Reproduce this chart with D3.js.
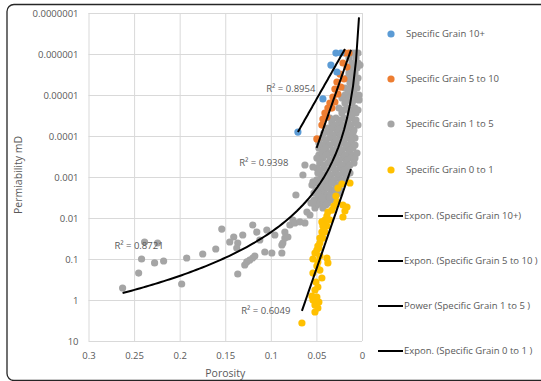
<!DOCTYPE html>
<html>
<head>
<meta charset="utf-8">
<script src="https://cdn.jsdelivr.net/npm/d3@7"></script>
<style>
  body { margin: 0; background: #fff; }
  text { font-family: "Open Sans", sans-serif; fill: #595959; }
</style>
</head>
<body>
<div id="chart"></div>
<script>
// series points: [porosity, permeability mD]
const grain10 = [
  [0.0286, 9.5e-7], [0.0231, 9.5e-7], [0.0341, 1.86e-6], [0.0275, 2.75e-6],
  [0.0429, 1.25e-5], [0.0703, 8.0e-5]
];
const grain5to10 = [
  [0.0187, 9.5e-7], [0.0143, 9.5e-7], [0.0209, 1.66e-6], [0.0165, 2.08e-6],
  [0.0242, 3.08e-6], [0.0198, 4.07e-6], [0.0275, 4.82e-6], [0.0231, 6.39e-6],
  [0.0297, 7.14e-6], [0.0264, 9.46e-6], [0.0319, 1.12e-5], [0.0297, 1.48e-5],
  [0.0352, 1.57e-5], [0.033, 2.08e-5], [0.0374, 2.08e-5], [0.0407, 2.75e-5],
  [0.0385, 3.44e-5], [0.0429, 3.85e-5], [0.044, 5.4e-5], [0.0495, 1.18e-4]
];
const grain1to5 = [
  [0.011, 9.5e-7], [0.0077, 9.5e-7], [0.0044, 9.5e-7],
  [0.0143, 1.25e-6], [0.0066, 1.25e-6],
  [0.011, 1.66e-6], [0.0044, 1.66e-6],
  [0.0077, 1.86e-6], [0.0022, 1.86e-6],
  [0.011, 2.2e-6], [0.0055, 2.2e-6],
  [0.0143, 2.9e-6], [0.0077, 2.9e-6],
  [0.0165, 3.85e-6], [0.0099, 3.85e-6], [0.0044, 3.85e-6],
  [0.0132, 5.1e-6], [0.0066, 5.1e-6],
  [0.0187, 6.75e-6], [0.0121, 6.75e-6], [0.0055, 6.75e-6],
  [0.0154, 8.94e-6], [0.0088, 8.94e-6],
  [0.0187, 1.0e-5], [0.0033, 1.0e-5],
  [0.022, 1.18e-5], [0.0132, 1.18e-5], [0.0066, 1.18e-5],
  [0.0154, 1.32e-5], [0.0088, 1.32e-5], [0.0033, 1.32e-5],
  [0.0187, 1.57e-5], [0.011, 1.57e-5],
  [0.0253, 2.08e-5], [0.0165, 2.08e-5], [0.0077, 2.08e-5],
  [0.0198, 2.32e-5], [0.011, 2.32e-5], [0.0044, 2.32e-5],
  [0.022, 2.75e-5], [0.0132, 2.75e-5], [0.0066, 2.75e-5],
  [0.0352, 3.64e-5], [0.0286, 3.64e-5], [0.0198, 3.64e-5], [0.011, 3.64e-5],
  [0.0242, 4.07e-5], [0.0154, 4.07e-5], [0.0066, 4.07e-5],
  [0.033, 4.82e-5], [0.0253, 4.82e-5], [0.0165, 4.82e-5], [0.0077, 4.82e-5],
  [0.0286, 5.4e-5], [0.0198, 5.4e-5], [0.0121, 5.4e-5], [0.0044, 5.4e-5],
  [0.0374, 6.39e-5], [0.0319, 6.39e-5], [0.022, 6.39e-5], [0.0132, 6.39e-5],
  [0.0264, 7.14e-5], [0.0176, 7.14e-5], [0.0088, 7.14e-5],
  [0.0418, 8.45e-5], [0.0352, 8.45e-5], [0.0275, 8.45e-5], [0.0187, 8.45e-5], [0.0099, 8.45e-5],
  [0.0319, 9.46e-5], [0.0231, 9.46e-5], [0.0143, 9.46e-5],
  [0.044, 1.12e-4], [0.0352, 1.12e-4], [0.0242, 1.12e-4], [0.0154, 1.12e-4], [0.0077, 1.12e-4],
  [0.0396, 1.25e-4], [0.0286, 1.25e-4], [0.0198, 1.25e-4], [0.011, 1.25e-4],
  [0.0473, 1.48e-4], [0.0396, 1.48e-4], [0.0308, 1.48e-4], [0.0209, 1.48e-4], [0.0121, 1.48e-4],
  [0.044, 1.66e-4], [0.0352, 1.66e-4], [0.0253, 1.66e-4], [0.0165, 1.66e-4], [0.0077, 1.66e-4],
  [0.0473, 1.96e-4], [0.0396, 1.96e-4], [0.0275, 1.96e-4], [0.0176, 1.96e-4], [0.0099, 1.96e-4],
  [0.0418, 2.2e-4], [0.0319, 2.2e-4], [0.022, 2.2e-4], [0.0132, 2.2e-4],
  [0.044, 2.6e-4], [0.0352, 2.6e-4], [0.0242, 2.6e-4], [0.0143, 2.6e-4], [0.0055, 2.6e-4],
  [0.0473, 2.91e-4], [0.0385, 2.91e-4], [0.0286, 2.91e-4], [0.0187, 2.91e-4], [0.0099, 2.91e-4],
  [0.0495, 3.44e-4], [0.0429, 3.44e-4], [0.0308, 3.44e-4], [0.0209, 3.44e-4], [0.0121, 3.44e-4], [0.0077, 3.44e-4],
  [0.0462, 3.85e-4], [0.0352, 3.85e-4], [0.0253, 3.85e-4], [0.0165, 3.85e-4],
  [0.0462, 4.56e-4], [0.0374, 4.56e-4], [0.0275, 4.56e-4], [0.0176, 4.56e-4], [0.0088, 4.56e-4],
  [0.0418, 5.1e-4], [0.0319, 5.1e-4], [0.022, 5.1e-4], [0.0132, 5.1e-4],
  [0.0495, 6.04e-4], [0.0418, 6.04e-4], [0.033, 6.04e-4], [0.0242, 6.04e-4], [0.0154, 6.04e-4],
  [0.0462, 6.75e-4], [0.0374, 6.75e-4], [0.0286, 6.75e-4], [0.0198, 6.75e-4],
  [0.0484, 7.99e-4], [0.0385, 7.99e-4], [0.0297, 7.99e-4], [0.0209, 7.99e-4], [0.0132, 7.99e-4],
  [0.0429, 8.94e-4], [0.0341, 8.94e-4], [0.0253, 8.94e-4], [0.0165, 8.94e-4],
  [0.0451, 1.06e-3], [0.0352, 1.06e-3], [0.0264, 1.06e-3], [0.0176, 1.06e-3],
  [0.0495, 1.18e-3], [0.0396, 1.18e-3], [0.0308, 1.18e-3], [0.022, 1.18e-3],
  [0.0505, 1.4e-3], [0.0407, 1.4e-3], [0.0319, 1.4e-3], [0.0231, 1.4e-3],
  [0.0451, 1.57e-3], [0.0363, 1.57e-3], [0.0275, 1.57e-3],
  [0.0462, 1.86e-3], [0.0374, 1.86e-3], [0.0286, 1.86e-3],
  [0.0505, 2.08e-3], [0.0418, 2.08e-3], [0.033, 2.08e-3], [0.0242, 2.08e-3],
  [0.0527, 2.46e-3], [0.0429, 2.46e-3], [0.0341, 2.46e-3], [0.0253, 2.46e-3],
  [0.0462, 2.75e-3], [0.0374, 2.75e-3], [0.0286, 2.75e-3],
  [0.0484, 3.25e-3], [0.0396, 3.25e-3], [0.0308, 3.25e-3],
  [0.0527, 3.64e-3], [0.0429, 3.64e-3], [0.0341, 3.64e-3],
  [0.056, 4.31e-3], [0.0462, 4.31e-3], [0.0374, 4.31e-3],
  [0.0495, 4.82e-3], [0.0396, 4.82e-3],
  [0.0516, 5.71e-3], [0.0429, 5.71e-3],
  [0.2626, 0.51], [0.245, 0.22], [0.2418, 0.1], [0.2385, 0.0385], [0.2275, 0.125],
  [0.2242, 0.0407], [0.2176, 0.112], [0.1978, 0.407], [0.1923, 0.0946], [0.1747, 0.0756],
  [0.1604, 0.0571], [0.1538, 0.0186], [0.1451, 0.0385], [0.1407, 0.0291], [0.1363, 0.0407],
  [0.1374, 0.054], [0.1363, 0.232], [0.1308, 0.026], [0.1286, 0.14], [0.1264, 0.118],
  [0.1231, 0.106], [0.1198, 0.0946], [0.1176, 0.0845], [0.1198, 0.0148], [0.1154, 0.022],
  [0.1121, 0.0344], [0.1066, 0.0675], [0.1044, 0.0196], [0.0989, 0.0714], [0.0956, 0.026],
  [0.0879, 0.0714], [0.0868, 0.0407], [0.0846, 0.022], [0.0813, 0.0291], [0.0846, 0.0308],
  [0.0879, 0.0456], [0.0758, 0.0112], [0.0791, 0.0148], [0.0736, 0.0132], [0.0681, 0.0125],
  [0.0626, 0.0132], [0.0604, 7.14e-3], [0.0571, 8.45e-3], [0.0725, 2.75e-3], [0.0549, 1.57e-3],
  [0.0538, 4.31e-3], [0.0626, 5.1e-4], [0.0648, 8.94e-4], [0.0538, 5.71e-4], [0.0538, 1.32e-3],
  [0.0484, 2.46e-3], [0.044, 3.25e-3], [0.0385, 1.75e-3], [0.033, 1.4e-3], [0.0297, 2.08e-3],
  [0.0352, 3.08e-3]
];
const grain0to1 = [
  [0.022, 1.48e-3], [0.0132, 1.4e-3], [0.0264, 1.86e-3], [0.0286, 2.91e-3], [0.0275, 4.07e-3],
  [0.0308, 5.1e-3], [0.0209, 4.82e-3], [0.0165, 5.4e-3], [0.0187, 6.75e-3], [0.0209, 9.46e-3],
  [0.033, 6.39e-3], [0.0374, 7.14e-3], [0.0385, 8.94e-3], [0.0352, 0.0112], [0.0407, 0.0112],
  [0.044, 0.0125], [0.0385, 0.0157], [0.0429, 0.0157], [0.0407, 0.022], [0.044, 0.022],
  [0.0429, 0.0308], [0.0462, 0.0308], [0.0462, 0.0407], [0.0484, 0.0482], [0.0473, 0.054],
  [0.0495, 0.0604], [0.0516, 0.0714], [0.0462, 0.0845], [0.0538, 0.1], [0.0484, 0.118],
  [0.0385, 0.0946], [0.0374, 0.125], [0.0495, 0.148], [0.0462, 0.186], [0.0538, 0.22],
  [0.044, 0.291], [0.0505, 0.364], [0.0484, 0.482], [0.0516, 0.571], [0.0549, 0.799],
  [0.0495, 0.845], [0.0538, 1.0], [0.0473, 1.12], [0.0516, 1.32], [0.0484, 1.57],
  [0.0516, 1.96], [0.0659, 3.64]
];

const seriesNames = ["Specific Grain 10+", "Specific Grain 5 to 10", "Specific Grain 1 to 5", "Specific Grain 0 to 1"];
const seriesColors = ["#5B9BD5", "#ED7D31", "#A5A5A5", "#FFC000"];

// trendlines: exp -> a*e^(b*x), pow -> a*x^b
const trendNames = ["Expon. (Specific Grain 10+)", "Expon. (Specific Grain 5 to 10 )", "Power (Specific Grain 1 to 5 )", "Expon. (Specific Grain 0 to 1 )"];
const trendType = ["exp", "exp", "pow", "exp"];
const trendA = [1.40e-7, 1.36e-7, 76.6, 1.06e-4];
const trendB = [90.3, 146, 3.537, 148.2];
const trendFrom = [0.0187, 0.0121, 0.0033, 0.0121];
const trendTo = [0.0703, 0.0498, 0.2626, 0.0659];
const r2Labels = ["R² = 0.8954", "R² = 0.9398", "R² = 0.8721", "R² = 0.6049"];
const r2Anchor = [[0.1051, 7.14e-6], [0.1347, 4.56e-4], [0.2716, 0.048], [0.1325, 1.86]];

const xTicks = [0.3, 0.25, 0.2, 0.15, 0.1, 0.05, 0];
const xTickLabels = ["0.3", "0.25", "0.2", "0.15", "0.1", "0.05", "0"];
const yTicks = [1e-7, 1e-6, 1e-5, 1e-4, 1e-3, 1e-2, 1e-1, 1, 10];
const yTickLabels = ["0.0000001", "0.000001", "0.00001", "0.0001", "0.001", "0.01", "0.1", "1", "10"];

const W = 541, H = 381;
const plot = { left: 88.5, right: 362, top: 13, bottom: 341 };

const svg = d3.select("#chart").append("svg")
  .attr("width", W)
  .attr("height", H);

// outer chart frame
svg.append("rect")
  .attr("x", 7).attr("y", 4.5)
  .attr("width", 620).attr("height", 376)
  .attr("rx", 7)
  .attr("fill", "#fff")
  .attr("stroke", "#262626")
  .attr("stroke-width", 1.3);

const x = d3.scaleLinear().domain([0.3, 0]).range([plot.left, plot.right]);
const y = d3.scaleLog().domain([1e-7, 10]).range([plot.top, plot.bottom]);

// grid
const gx = svg.append("g")
  .attr("transform", `translate(0,${plot.bottom})`)
  .call(d3.axisBottom(x).tickValues(xTicks)
    .tickSize(-(plot.bottom - plot.top))
    .tickPadding(11)
    .tickFormat((d, i) => xTickLabels[i]));
gx.select(".domain").remove();
gx.selectAll(".tick line").attr("stroke", "#D9D9D9");
gx.selectAll(".tick text").attr("font-size", 9.5).attr("fill", "#595959");

const gy = svg.append("g")
  .attr("transform", `translate(${plot.left},0)`)
  .call(d3.axisLeft(y).tickValues(yTicks)
    .tickSize(-(plot.right - plot.left))
    .tickPadding(10)
    .tickFormat((d, i) => yTickLabels[i]));
gy.select(".domain").remove();
gy.selectAll(".tick line").attr("stroke", "#D9D9D9");
gy.selectAll(".tick text").attr("font-size", 9.5).attr("fill", "#595959");

// axis titles
svg.append("text")
  .attr("x", (plot.left + plot.right) / 2)
  .attr("y", 377)
  .attr("text-anchor", "middle")
  .attr("font-size", 10.5)
  .text("Porosity");

svg.append("text")
  .attr("transform", `translate(22,${(plot.top + plot.bottom) / 2 - 2}) rotate(-90)`)
  .attr("text-anchor", "middle")
  .attr("font-size", 10.5)
  .text("Permiability mD");

// points, grey first so the smaller series sit on top
const allSeries = [grain10, grain5to10, grain1to5, grain0to1];
const drawOrder = [2, 3, 1, 0];
drawOrder.forEach(i => {
  svg.append("g")
    .selectAll("circle")
    .data(allSeries[i])
    .join("circle")
    .attr("cx", d => x(d[0]))
    .attr("cy", d => y(d[1]))
    .attr("r", 3.6)
    .attr("fill", seriesColors[i]);
});

// trendlines
const line = d3.line().x(d => x(d[0])).y(d => y(d[1]));
trendType.forEach((t, i) => {
  const pts = d3.range(0, 81).map(k => {
    const p = trendFrom[i] + (trendTo[i] - trendFrom[i]) * k / 80;
    const v = t === "exp" ? trendA[i] * Math.exp(trendB[i] * p) : trendA[i] * Math.pow(p, trendB[i]);
    return [p, v];
  });
  svg.append("path")
    .datum(pts)
    .attr("d", line)
    .attr("fill", "none")
    .attr("stroke", "#000")
    .attr("stroke-width", 2);
});

svg.selectAll("text.r2")
  .data(r2Labels)
  .join("text")
  .attr("class", "r2")
  .attr("x", (d, i) => x(r2Anchor[i][0]))
  .attr("y", (d, i) => y(r2Anchor[i][1]))
  .attr("dy", "0.35em")
  .attr("font-size", 9.5)
  .text(d => d);

// legend
const legendY = [34, 79, 124, 170];
const legendLineY = [216, 261, 306, 351];
seriesNames.forEach((name, i) => {
  svg.append("circle")
    .attr("cx", 391).attr("cy", legendY[i])
    .attr("r", 3.6)
    .attr("fill", seriesColors[i]);
  svg.append("text")
    .attr("x", 406).attr("y", legendY[i])
    .attr("dy", "0.35em")
    .attr("font-size", 9.5)
    .text(name);
});
trendNames.forEach((name, i) => {
  svg.append("line")
    .attr("x1", 378).attr("x2", 403)
    .attr("y1", legendLineY[i]).attr("y2", legendLineY[i])
    .attr("stroke", "#000")
    .attr("stroke-width", 2);
  svg.append("text")
    .attr("x", 404).attr("y", legendLineY[i])
    .attr("dy", "0.35em")
    .attr("font-size", 9.5)
    .text(name);
});
</script>
</body>
</html>
